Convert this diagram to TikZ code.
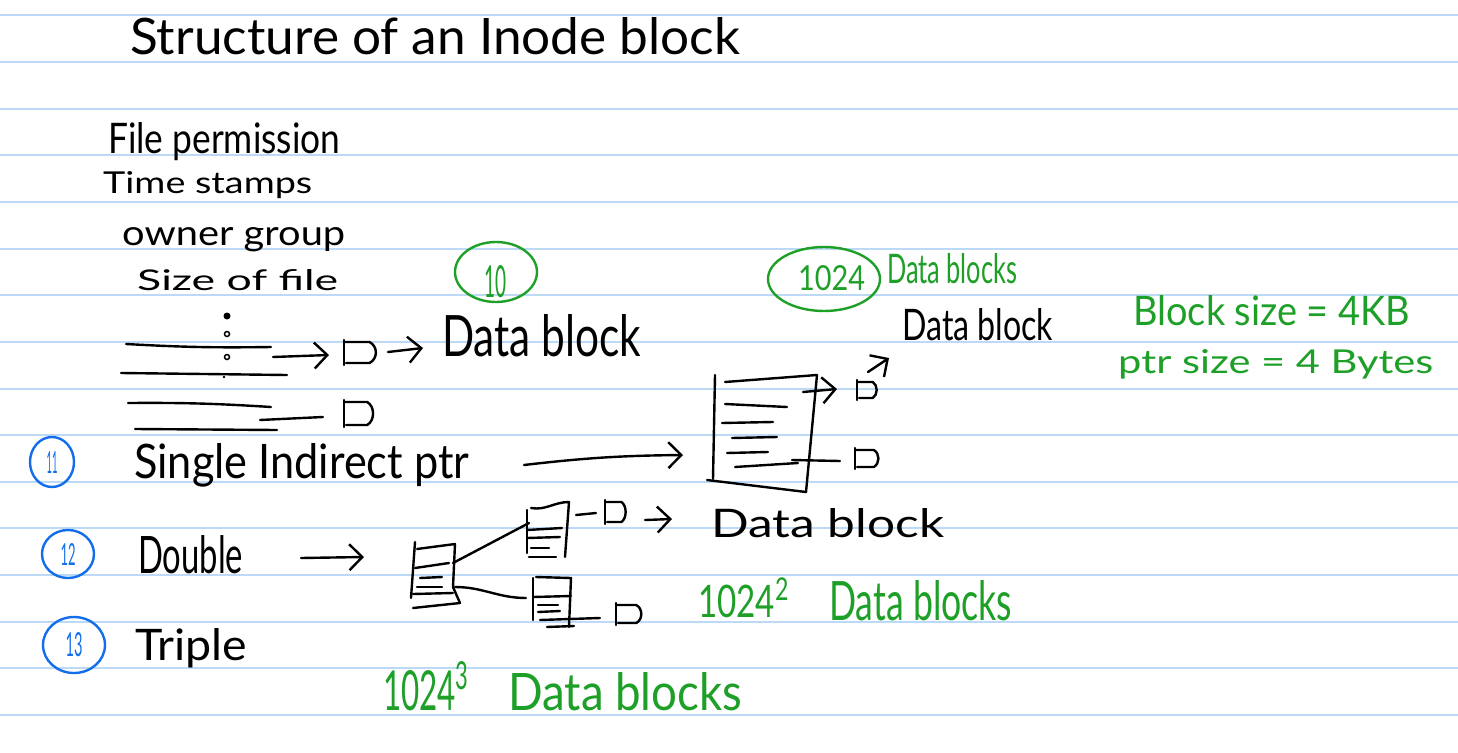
\documentclass[tikz,border=0pt]{standalone}
\usepackage{fontspec}
\setmainfont{Lato}
\usepackage{graphicx}
\usetikzlibrary{arrows.meta}

\definecolor{paperline}{RGB}{188,218,245}
\definecolor{inkgreen}{RGB}{30,160,40}
\definecolor{inkblue}{RGB}{20,110,235}

% handwritten text squeezed into a box of given width and height
\newcommand{\hw}[3]{\resizebox{#1pt}{#2pt}{#3}}

\tikzset{
  ink/.style={line width=2.4pt, line cap=round, line join=round},
  txt/.style={inner sep=0pt, anchor=base west},
  handarrow/.style={ink, -{Straight Barb[length=13pt,width=26pt]}},
  pics/dblk/.style n args={2}{code={
    \draw[ink] (0,-2) -- (0,{#2+2});
    \draw[ink] (0,0) -- ({0.75*#1},0) .. controls (#1,{0.2*#2}) and (#1,{0.8*#2}) .. ({0.75*#1},#2) -- (2,#2);
  }}
}

\begin{document}
\begin{tikzpicture}[x=1pt,y=-1pt]
  \useasboundingbox (0,0) rectangle (1458,752);
  \fill[white] (0,0) rectangle (1458,752);

  % paper lines
  \foreach \k in {0,...,15}
    \draw[paperline, line width=2pt] (0,{15.5+46.63*\k}) -- (1458,{15.5+46.63*\k});

  % title and inode fields
  \node[txt] (title) at (130,55) {\hw{610}{37}{Structure of an Inode block}};
  \node[txt] (perm) at (108,153) {\hw{232}{31}{File permission}};
  \node[txt] (time) at (103,193) {\hw{209}{22}{Time stamps}};
  \node[txt] (owner) at (122,245) {\hw{223}{18}{owner group}};
  \node[txt] (fsize) at (137,290) {\hw{201}{21}{Size of file}};

  % direct pointers
  \fill (227,316) circle [radius=3.5];
  \draw[line width=1.5pt] (227,334) circle [radius=2.5];
  \draw[line width=1.5pt] (227,357) circle [radius=2.5];
  \fill (224,377) circle [radius=1.3];
  \draw[ink] (126,344) to[bend right=2] (271,347);
  \draw[handarrow] (273,357) -- (329,355);
  \pic at (344,342) {dblk={34}{21}};
  \draw[handarrow] (388,352) -- (423,348);
  \node[txt] (data1) at (442,356) {\hw{199}{42}{Data block}};
  \draw[ink] (121,373) -- (287,375);
  \draw[ink] (128,403) to[bend left=2] (271,407);
  \draw[ink] (135,429) -- (277,430);
  \draw[ink] (260,420) -- (323,417);
  \pic at (344,402) {dblk={31}{23}};
  \node[txt, inkgreen] (ten) at (484,297) {\hw{22}{32}{10}};
  \draw[ink, inkgreen] (496,272) ellipse [x radius=41, y radius=30];

  % single indirect
  \draw[ink, inkblue] (52,462) ellipse [x radius=22, y radius=25];
  \node[inkblue, inner sep=0pt] (n11) at (52,462) {\hw{11}{22}{11}};
  \node[txt] (single) at (134,478) {\hw{335}{35}{Single Indirect ptr}};
  \draw[handarrow] (524,465) to[bend left=3] (683,455);
  \draw[ink] (715,375) -- (713,479);
  \draw[ink] (707,480) -- (806,492);
  \draw[ink] (817,375) -- (806,492);
  \draw[ink] (725,382) -- (817,375);
  \draw[ink] (725,404) -- (787,407);
  \draw[ink] (722,423) -- (773,422);
  \draw[ink] (732,438) -- (777,437);
  \draw[ink] (727,453) -- (768,452);
  \draw[ink] (735,467) -- (798,463);
  \draw[handarrow] (803,392) -- (837,389);
  \pic at (857,382) {dblk={21}{16}};
  \draw[handarrow] (868,372) -- (889,358);
  \node[txt] (data2) at (902,340) {\hw{151}{32}{Data block}};
  \draw[ink] (792,460) -- (840,461);
  \pic at (855,450) {dblk={25}{17}};
  \node[txt, inkgreen] (k1) at (798,290) {\hw{67}{25}{1024}};
  \draw[ink, inkgreen] (824,279) ellipse [x radius=56, y radius=32];
  \node[txt, inkgreen] (kdata) at (887,283) {\hw{130}{30}{Data blocks}};

  % sizes
  \node[txt, inkgreen] (bsize) at (1133,325) {\hw{277}{30}{Block size = 4KB}};
  \node[txt, inkgreen] (psize) at (1118,373) {\hw{315}{24}{ptr size = 4 Bytes}};

  % double indirect
  \draw[ink, inkblue] (68,554) ellipse [x radius=26, y radius=24];
  \node[inkblue, inner sep=0pt] (n12) at (68,554) {\hw{15}{22}{12}};
  \node[txt] (double) at (138,573) {\hw{105}{38}{Double}};
  \draw[handarrow] (301,558) -- (364,557);
  \draw[ink] (415,542) -- (411,598);
  \draw[ink] (417,549) -- (455,544) -- (453,587) -- (460,603) -- (413,608);
  \draw[ink] (415,568) -- (449,563);
  \draw[ink] (420,578) -- (442,577);
  \draw[ink] (417,587) -- (442,587);
  \draw[ink] (413,594) -- (453,593);
  \draw[ink] (453,563) -- (529,523);
  \draw[ink] (455,587) to[out=0,in=180] (526,598);
  \draw[ink] (527,510) -- (527,553);
  \draw[ink] (531,508) to[out=-10,in=180] (569,502) -- (565,557);
  \draw[ink] (527,530) -- (562,528);
  \draw[ink] (527,538) -- (560,537);
  \draw[ink] (531,548) -- (549,548);
  \draw[ink] (529,557) -- (556,557);
  \draw[ink] (576,515) -- (596,513);
  \pic at (605,502) {dblk={22}{20}};
  \draw[handarrow] (645,520) -- (672,519);
  \node[txt] (data3) at (711,537) {\hw{233}{29}{Data block}};
  \draw[ink] (533,578) -- (533,620);
  \draw[ink] (536,577) -- (571,578) -- (569,627);
  \draw[ink] (533,597) -- (571,596);
  \draw[ink] (538,605) -- (558,605);
  \draw[ink] (538,612) -- (560,611);
  \draw[ink] (540,620) -- (600,618);
  \draw[ink] (547,627) -- (574,626);
  \pic at (616,605) {dblk={27}{18}};
  \node[txt, inkgreen] (ksq) at (698,617) {\hw{92}{39}{1024\textsuperscript{2}}};
  \node[txt, inkgreen] (ksqdata) at (829,620) {\hw{183}{40}{Data blocks}};

  % triple indirect
  \draw[ink, inkblue] (74,645) ellipse [x radius=31, y radius=28];
  \node[inkblue, inner sep=0pt] (n13) at (74,645) {\hw{17}{24}{13}};
  \node[txt] (triple) at (135,660) {\hw{112}{32}{Triple}};
  \node[txt, inkgreen] (kcube) at (383,710) {\hw{87}{48}{1024\textsuperscript{3}}};
  \node[txt, inkgreen] (kcubedata) at (508,710) {\hw{234}{38}{Data blocks}};
\end{tikzpicture}
\end{document}
